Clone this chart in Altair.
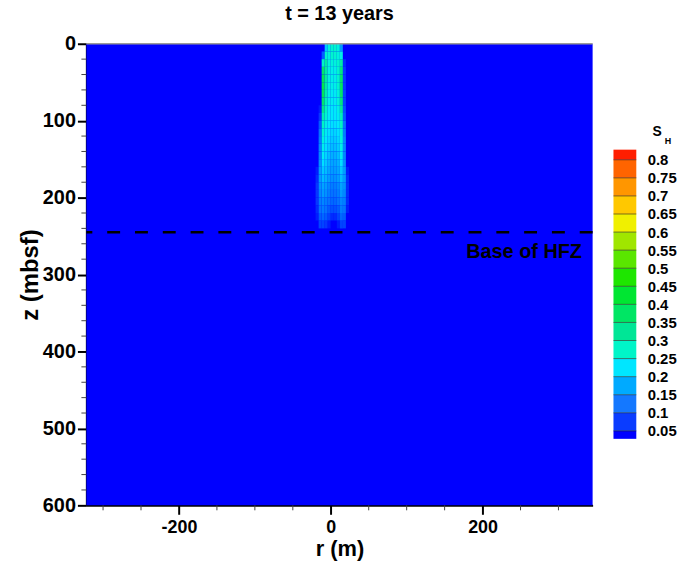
import altair as alt
import pandas as pd

# ---------------- data ----------------
R_DOMAIN = [-322, 345]
Z_DOMAIN = [0, 600]

r_centers = [-18, -14, -10, -6, -2, 2, 6, 10, 14, 18, 22]
z_centers = [5, 15, 25, 35, 45, 55, 65, 75, 85, 95, 105, 115, 125, 135,
             145, 155, 165, 175, 185, 195, 205, 215, 225, 235]
sh_rows = [
    [0.00, 0.00, 0.00, 0.20, 0.26, 0.27, 0.27, 0.26, 0.16, 0.00, 0.00],
    [0.00, 0.00, 0.10, 0.27, 0.26, 0.27, 0.27, 0.26, 0.25, 0.04, 0.00],
    [0.00, 0.00, 0.28, 0.31, 0.26, 0.26, 0.26, 0.27, 0.31, 0.06, 0.00],
    [0.00, 0.00, 0.37, 0.31, 0.26, 0.25, 0.25, 0.27, 0.35, 0.07, 0.00],
    [0.00, 0.00, 0.39, 0.31, 0.26, 0.25, 0.25, 0.27, 0.37, 0.07, 0.00],
    [0.00, 0.00, 0.40, 0.31, 0.26, 0.25, 0.25, 0.27, 0.38, 0.07, 0.00],
    [0.00, 0.03, 0.39, 0.30, 0.25, 0.24, 0.24, 0.26, 0.37, 0.08, 0.00],
    [0.00, 0.04, 0.37, 0.29, 0.25, 0.24, 0.24, 0.26, 0.35, 0.08, 0.00],
    [0.00, 0.05, 0.34, 0.28, 0.24, 0.23, 0.23, 0.25, 0.32, 0.09, 0.00],
    [0.00, 0.07, 0.30, 0.27, 0.24, 0.23, 0.23, 0.24, 0.29, 0.10, 0.00],
    [0.00, 0.10, 0.28, 0.25, 0.23, 0.22, 0.22, 0.23, 0.28, 0.12, 0.00],
    [0.00, 0.12, 0.27, 0.24, 0.22, 0.21, 0.21, 0.22, 0.27, 0.13, 0.00],
    [0.00, 0.13, 0.26, 0.23, 0.21, 0.20, 0.20, 0.21, 0.26, 0.14, 0.00],
    [0.00, 0.14, 0.25, 0.22, 0.20, 0.19, 0.19, 0.20, 0.25, 0.14, 0.00],
    [0.00, 0.14, 0.24, 0.21, 0.19, 0.18, 0.18, 0.19, 0.24, 0.14, 0.03],
    [0.00, 0.15, 0.22, 0.20, 0.18, 0.17, 0.17, 0.18, 0.22, 0.15, 0.04],
    [0.05, 0.16, 0.20, 0.19, 0.17, 0.16, 0.16, 0.17, 0.20, 0.16, 0.05],
    [0.06, 0.16, 0.19, 0.18, 0.16, 0.15, 0.15, 0.16, 0.19, 0.16, 0.06],
    [0.07, 0.15, 0.17, 0.16, 0.14, 0.13, 0.13, 0.14, 0.17, 0.15, 0.06],
    [0.07, 0.14, 0.16, 0.15, 0.13, 0.12, 0.12, 0.13, 0.16, 0.14, 0.06],
    [0.07, 0.13, 0.14, 0.13, 0.12, 0.11, 0.11, 0.12, 0.14, 0.13, 0.06],
    [0.06, 0.12, 0.13, 0.12, 0.10, 0.09, 0.09, 0.10, 0.13, 0.12, 0.05],
    [0.05, 0.10, 0.11, 0.10, 0.08, 0.06, 0.06, 0.08, 0.11, 0.10, 0.04],
    [0.04, 0.08, 0.08, 0.07, 0.05, 0.03, 0.03, 0.05, 0.08, 0.08, 0.03],
]

cb_levels = [0.05, 0.1, 0.15, 0.2, 0.25, 0.3, 0.35, 0.4, 0.45, 0.5,
             0.55, 0.6, 0.65, 0.7, 0.75, 0.8]
cb_low = [0.028] + cb_levels
cb_high = cb_levels + [0.828]
cb_colors = ["#0000ff", "#0a3cff", "#1478ff", "#00aaff", "#00e6ff",
             "#00f5c8", "#00e696", "#00e664", "#00e632", "#1ee600",
             "#5ae600", "#a0e600", "#f0f000", "#ffc800", "#ff9600",
             "#ff6400", "#ff1e00"]
cb_mid = [0.04, 0.075, 0.125, 0.175, 0.225, 0.275, 0.325, 0.375, 0.425,
          0.475, 0.525, 0.575, 0.625, 0.675, 0.725, 0.775, 0.82]

base_z = [245]
base_label_r = [331]
base_label_z = [278]
base_label = ["Base of HFZ"]

x_major = [-200, 0, 200]
x_minor = [-300, -250, -150, -100, -50, 50, 100, 150, 250, 300]
y_major = [0, 100, 200, 300, 400, 500, 600]
y_minor = [v for v in range(20, 600, 20) if v % 100 != 0]

# ---------------- tables ----------------
DR, DZ = 4, 10
cells = []
for zi, zc in enumerate(z_centers):
    for ri, rc in enumerate(r_centers):
        cells.append({"r0": rc - DR / 2, "r1": rc + DR / 2,
                      "z0": zc - DZ / 2, "z1": zc + DZ / 2,
                      "s": sh_rows[zi][ri]})
cells_df = pd.DataFrame(cells)
bg_df = pd.DataFrame({"r0": [R_DOMAIN[0]], "r1": [R_DOMAIN[1]],
                      "z0": [Z_DOMAIN[0]], "z1": [Z_DOMAIN[1]], "s": [0.0]})
cb_df = pd.DataFrame({"lo": cb_low, "hi": cb_high, "color": cb_colors})
cb_lines = pd.DataFrame({"lo": cb_levels})

FONT = "Liberation Sans"
PLOT_W, PLOT_H = 510, 465
NO_BORDER = alt.ViewBackground(stroke="transparent", strokeWidth=0)

color_scale = alt.Scale(domain=cb_mid, range=cb_colors, clamp=True)
x_scale = alt.Scale(domain=R_DOMAIN, nice=False, zero=False)
y_scale = alt.Scale(domain=Z_DOMAIN, reverse=True, nice=False, zero=False)

x_axis = alt.Axis(
    values=x_major, title="r (m)",
    labelExpr="datum.value < 0 ? '-' + abs(datum.value) : '' + datum.value",
    tickSize=9, tickWidth=2, tickColor="black",
    labelOverlap=False, labelFlush=False, grid=False,
    domainColor="black", domainWidth=2,
    labelFont=FONT, labelFontWeight="bold", labelFontSize=18, labelColor="black",
    labelPadding=4,
    titleFont=FONT, titleFontWeight="bold", titleFontSize=22, titleColor="black",
    titlePadding=3,
)
y_axis = alt.Axis(
    values=y_major, title="z (mbsf)",
    tickSize=9, tickWidth=2, tickColor="black",
    labelOverlap=False, labelFlush=False, grid=False,
    domainColor="black", domainWidth=2,
    labelFont=FONT, labelFontWeight="bold", labelFontSize=20, labelColor="black",
    labelPadding=2,
    titleFont=FONT, titleFontWeight="bold", titleFontSize=24, titleColor="black",
    titlePadding=0,
)

def X(field):
    return alt.X(field, scale=x_scale, axis=x_axis)

def Y(field):
    return alt.Y(field, scale=y_scale, axis=y_axis)

bg = alt.Chart(bg_df).mark_rect().encode(
    x=X("r0:Q"), x2="r1:Q", y=Y("z0:Q"), y2="z1:Q",
    color=alt.Color("s:Q", scale=color_scale, legend=None),
)
field = alt.Chart(cells_df).mark_rect().encode(
    x=X("r0:Q"), x2="r1:Q", y=Y("z0:Q"), y2="z1:Q",
    color=alt.Color("s:Q", scale=color_scale, legend=None),
)
top_line = alt.Chart(pd.DataFrame({"z0": [Z_DOMAIN[0]]})).mark_rule(
    color="#9a9a9a", strokeWidth=1.5
).encode(y=Y("z0:Q"))
base_line = alt.Chart(pd.DataFrame({"z0": base_z})).mark_rule(
    color="black", strokeWidth=2.5, strokeDash=[13, 15]
).encode(y=Y("z0:Q"))
base_text = alt.Chart(pd.DataFrame({"r0": base_label_r, "z0": base_label_z,
                                    "t": base_label})).mark_text(
    align="right", baseline="alphabetic", font=FONT, fontWeight="bold",
    fontSize=20, color="black"
).encode(x=X("r0:Q"), y=Y("z0:Q"), text="t:N")
x_minor_ticks = alt.Chart(pd.DataFrame({"r0": x_minor})).mark_rule(
    color="#444444", strokeWidth=1
).encode(x=X("r0:Q"), y=alt.value(PLOT_H), y2=alt.value(PLOT_H + 5))
y_minor_ticks = alt.Chart(pd.DataFrame({"z0": y_minor})).mark_rule(
    color="#444444", strokeWidth=1
).encode(y=Y("z0:Q"), x=alt.value(-5), x2=alt.value(0))

main = alt.layer(bg, field, top_line, base_line, base_text,
                 x_minor_ticks, y_minor_ticks).properties(
    width=PLOT_W, height=PLOT_H, view=NO_BORDER,
    title=alt.TitleParams("t = 13 years", font=FONT, fontWeight="bold",
                          fontSize=20, color="black", anchor="middle", offset=10),
)

cb_y = alt.Scale(domain=[-0.156, 1.121], nice=False, zero=False)
cb_axis = alt.Axis(
    orient="right", values=cb_levels, title=None,
    labelExpr="format(datum.value, '.2~f')",
    domain=False, ticks=False, grid=False, labelPadding=11,
    labelFont=FONT, labelFontWeight="bold", labelFontSize=15,
    labelColor="black", labelOverlap=False, labelFlush=False)

def CY(field):
    return alt.Y(field, scale=cb_y, axis=cb_axis)

cb_rect = alt.Chart(cb_df).mark_rect().encode(
    x=alt.value(0), x2=alt.value(23),
    y=CY("lo:Q"), y2="hi:Q",
    color=alt.Color("color:N", scale=None),
)
cb_line = alt.Chart(cb_lines).mark_rule(color="#222222", strokeWidth=1, opacity=0.6).encode(
    y=CY("lo:Q"), x=alt.value(0), x2=alt.value(23)
)
cb_s = alt.Chart(pd.DataFrame({"lo": [0.877], "t": ["S"]})).mark_text(
    align="center", baseline="middle", font=FONT, fontWeight="bold",
    fontSize=14, color="black"
).encode(y=CY("lo:Q"), x=alt.value(44), text="t:N")
cb_h = alt.Chart(pd.DataFrame({"lo": [0.852], "t": ["H"]})).mark_text(
    align="center", baseline="middle", font=FONT, fontWeight="bold",
    fontSize=9, color="black"
).encode(y=CY("lo:Q"), x=alt.value(55), text="t:N")

colorbar = alt.layer(cb_rect, cb_line, cb_s, cb_h).properties(
    width=23, height=PLOT_H, view=NO_BORDER)

chart = alt.hconcat(main, colorbar, spacing=18).properties(
    padding={"left": 18, "top": 2, "right": 0, "bottom": 0}
).configure_view(stroke="transparent", strokeWidth=0).configure_axis(
    labelOverlap=False).configure(background="white")

chart.save("out.html", embed_options={"renderer": "svg", "actions": False})
